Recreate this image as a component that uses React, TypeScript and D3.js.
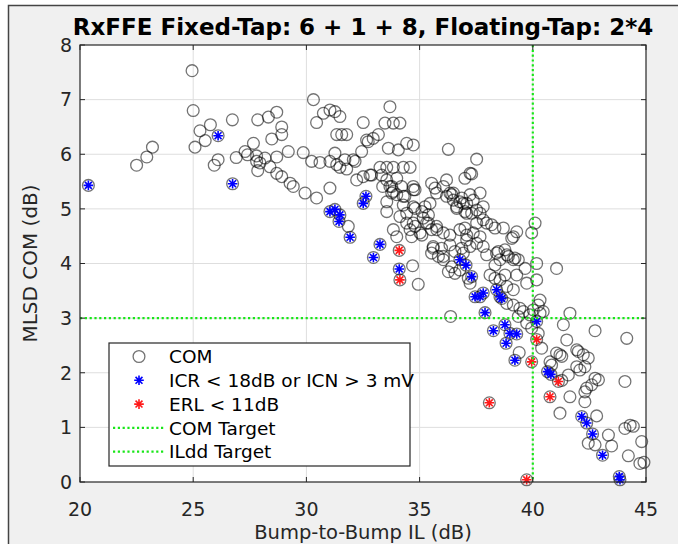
import { useEffect } from "react";
import * as d3 from "d3";

const TITLE = "RxFFE Fixed-Tap: 6 + 1 + 8, Floating-Tap: 2*4";
const X_LABEL = "Bump-to-Bump IL (dB)";
const Y_LABEL = "MLSD COM (dB)";
const X_TICKS = [20, 25, 30, 35, 40, 45];
const Y_TICKS = [0, 1, 2, 3, 4, 5, 6, 7, 8];
const COM_TARGET = 3;
const ILDD_TARGET = 40;
const LEGEND = ["COM", "ICR < 18dB or ICN > 3 mV", "ERL < 11dB", "COM Target", "ILdd Target"];

// plain COM results (circles only)
const comPts: [number, number][] = [
  [22.5, 5.8], [22.95, 5.95], [23.2, 6.13], [24.95, 7.53], [25.0, 6.8], [25.08, 6.13], [25.3, 6.43],
  [25.53, 6.25], [25.76, 6.54], [25.93, 5.8], [26.1, 5.9], [26.73, 6.63], [26.9, 5.94], [27.4, 5.99],
  [27.66, 6.2], [27.85, 6.63], [27.8, 5.87], [27.85, 5.7],
  [30.31, 7.0], [28.32, 6.68], [28.69, 6.77], [28.91, 6.5], [28.91, 6.36], [28.47, 6.28], [27.29, 6.05],
  [27.8, 5.97], [28.17, 5.93], [28.69, 5.95], [29.2, 6.05], [29.86, 6.03], [30.23, 5.87], [30.6, 5.85],
  [31.04, 5.87], [31.48, 5.76], [31.78, 5.73], [31.26, 6.02], [31.34, 6.36], [31.56, 6.36], [31.78, 6.36],
  [30.45, 6.58], [30.75, 6.75], [31.04, 6.81], [31.26, 6.78], [31.48, 6.69], [32.51, 6.58], [33.69, 6.87],
  [33.47, 6.57], [33.84, 6.57], [34.13, 6.57], [33.18, 6.36], [32.95, 6.29], [32.73, 6.23], [33.62, 6.11],
  [34.06, 6.08], [34.43, 6.2], [34.72, 6.17], [32.44, 6.05], [32.07, 5.9], [33.25, 5.76], [33.55, 5.76],
  [33.84, 5.76], [34.28, 5.76], [34.58, 5.76], [32.51, 5.59], [32.22, 5.53], [32.88, 5.62], [33.55, 5.53],
  [34.72, 5.41], [33.69, 5.41], [33.99, 5.26], [34.28, 5.23], [35.68, 5.38], [35.46, 5.1], [35.24, 5.04],
  [35.39, 4.89], [35.1, 4.95], [34.72, 5.04], [34.43, 4.92], [34.13, 4.86], [34.28, 5.07], [34.72, 4.74],
  [35.1, 4.52], [34.65, 4.49], [35.76, 4.62], [35.6, 4.31], [35.53, 4.19], [33.55, 5.13], [33.55, 4.95],
  [33.84, 4.62], [33.99, 4.49], [28.39, 5.77], [28.91, 5.59], [29.28, 5.47], [29.42, 5.41], [29.94, 5.29],
  [30.45, 5.2], [27.95, 5.84], [28.69, 5.65], [31.04, 5.38], [31.85, 4.68], [34.69, 3.96],
  [34.94, 3.62], [36.37, 3.03], [33.37, 5.41], [33.84, 5.32], [34.73, 5.35], [35.16, 4.83], [34.58, 4.62],
  [35.02, 4.56], [35.31, 4.74], [35.97, 4.28], [36.34, 4.34], [35.83, 4.13], [36.05, 4.07], [36.05, 4.56],
  [36.34, 4.52], [36.78, 4.62], [37.0, 4.65], [37.08, 4.52], [36.42, 3.94], [36.56, 3.82], [36.78, 3.88],
  [36.27, 3.85], [37.15, 3.73], [37.23, 3.64], [36.56, 4.22], [36.93, 4.19], [37.23, 4.31], [37.52, 4.37],
  [37.67, 4.49], [37.37, 4.56], [37.81, 4.31], [37.96, 4.74], [38.33, 4.65], [38.7, 4.65], [39.07, 4.46],
  [39.29, 4.58], [37.52, 4.98], [37.81, 5.04], [37.37, 5.16], [36.93, 5.1], [37.23, 5.26], [37.67, 5.29],
  [36.49, 5.29], [36.86, 5.2], [36.19, 5.23], [36.64, 5.04], [37.08, 4.92], [35.53, 5.47], [36.05, 5.41],
  [35.75, 5.29], [38.48, 4.22], [38.77, 4.25], [38.92, 4.13], [39.14, 4.07], [39.36, 4.07], [38.55, 4.07],
  [38.33, 3.97], [38.11, 3.79], [38.33, 3.73], [38.55, 3.7], [38.77, 3.79], [38.85, 3.58], [39.14, 3.52],
  [39.66, 3.91], [39.73, 3.64], [40.17, 4.0], [40.17, 3.7], [40.1, 4.74], [39.95, 4.56], [39.29, 3.79],
  [41.05, 3.91], [38.85, 3.27], [39.14, 3.24], [39.43, 3.18], [39.58, 3.12], [39.87, 3.06], [40.32, 3.09],
  [39.36, 3.03], [39.73, 2.91], [40.46, 3.12], [39.95, 2.82], [40.24, 2.72], [40.39, 2.45], [40.76, 2.2],
  [41.2, 2.33], [41.5, 2.6], [41.94, 2.42], [41.35, 2.88], [41.64, 3.09],
  [40.02, 3.15], [40.24, 3.24], [42.75, 2.77], [44.15, 2.63], [39.4, 2.37], [40.83, 2.14], [41.05, 2.36],
  [41.28, 2.3], [42.01, 2.39], [42.23, 2.33], [42.45, 2.27], [42.3, 2.11], [42.08, 2.05], [41.94, 2.11],
  [41.28, 1.86], [41.57, 1.96], [42.38, 1.72], [42.3, 1.65], [42.75, 1.9], [42.9, 1.87], [42.6, 1.78],
  [44.07, 1.84], [41.64, 1.56], [41.2, 1.26], [42.3, 1.47], [42.82, 1.21], [43.34, 0.86], [43.48, 0.66],
  [42.45, 0.71], [42.75, 0.68], [44.07, 0.98], [44.3, 1.04], [44.44, 1.02], [44.81, 0.74], [44.22, 0.48],
  [44.73, 0.34], [44.91, 0.36],
  [36.27, 6.09], [37.52, 5.91], [31.7, 5.9], [32.15, 5.87], [31.34, 5.81], [33.32, 5.62], [33.99, 5.56],
  [32.81, 5.62], [36.19, 5.53], [37.0, 5.56], [37.3, 5.64], [34.8, 5.35], [36.34, 5.29], [33.77, 5.41],
  [33.77, 5.29], [34.2, 5.41], [32.66, 6.26],
  [37.23, 5.65], [36.42, 5.26], [36.49, 5.16], [36.78, 5.13], [37.08, 5.1], [36.64, 5.01], [37.0, 4.95],
  [37.3, 4.92], [37.67, 4.92], [37.81, 4.8], [37.52, 4.74], [38.18, 4.71], [39.14, 4.49], [35.39, 4.74],
  [35.53, 4.62], [35.75, 4.68], [35.6, 4.28], [36.05, 4.13], [37.08, 4.43], [36.86, 4.28], [34.8, 5.01],
  [34.35, 5.23], [34.43, 4.74], [34.8, 4.68], [37.96, 4.16], [38.4, 4.19], [38.85, 4.16], [39.21, 4.1],
  [40.32, 3.33],
];

// ICR < 18dB or ICN > 3 mV (blue asterisk)
const icrPts: [number, number][] = [
  [20.37, 5.43], [26.1, 6.34], [26.74, 5.46], [31.04, 4.95], [31.26, 4.99], [31.48, 4.89], [31.44, 4.77],
  [31.93, 4.48], [32.63, 5.23], [32.51, 5.1], [33.25, 4.35], [32.96, 4.11], [34.1, 3.9], [36.78, 4.07],
  [37.05, 3.97], [37.3, 3.76], [37.45, 3.39], [37.67, 3.39], [37.81, 3.46], [38.4, 3.52], [38.55, 3.39],
  [38.63, 3.36], [37.89, 3.1], [38.26, 2.77], [38.77, 2.88], [38.99, 2.72], [39.29, 2.71], [38.82, 2.54],
  [40.17, 2.94], [39.21, 2.23], [40.8, 1.97], [40.65, 2.02], [42.16, 1.2], [42.38, 1.08], [42.64, 0.88],
  [43.08, 0.49], [43.82, 0.1], [43.85, 0.04],
];

// ERL < 11dB (red asterisk)
const erlPts: [number, number][] = [
  [34.1, 4.24], [34.13, 3.7], [40.17, 2.61], [39.95, 2.2], [41.13, 1.84], [40.76, 1.56], [38.08, 1.45],
  [39.73, 0.04],
];

const FONT = "'DejaVu Sans', Arial, sans-serif";
const GREEN = "#19e619";

function star(cx: number, cy: number, r: number) {
  const d = r * 0.72;
  return `M${cx - r},${cy}H${cx + r}M${cx},${cy - r}V${cy + r}` +
    `M${cx - d},${cy - d}L${cx + d},${cy + d}M${cx - d},${cy + d}L${cx + d},${cy - d}`;
}

export default function App() {
  useEffect(() => {
    document.body.style.margin = "0";
  }, []);

  const plot = { left: 80, right: 646, top: 45, bottom: 482 };
  const x = d3.scaleLinear().domain([20, 45]).range([plot.left, plot.right]);
  const y = d3.scaleLinear().domain([0, 8]).range([plot.bottom, plot.top]);
  const pw = plot.right - plot.left;
  const ph = plot.bottom - plot.top;
  const tick = 5;

  const allCircles = [...comPts, ...icrPts, ...erlPts];

  const lg = { x: 109, y: 343, w: 301, h: 123 };
  const rowY = (i: number) => lg.y + 13.5 + i * 23.8;

  return (
    <svg width={678} height={544} style={{ display: "block", background: "#fff" }}>
      <rect x={8.5} y={5.5} width={680} height={560} fill="#f0f0f0" stroke="#444" strokeWidth={1.5} />

      {/* axes background */}
      <rect x={plot.left} y={plot.top} width={pw} height={ph} fill="#fff" />

      {/* grid */}
      {X_TICKS.slice(1, -1).map((t) => (
        <line key={"gx" + t} x1={x(t)} x2={x(t)} y1={plot.top} y2={plot.bottom} stroke="#dedede" strokeWidth={1} />
      ))}
      {Y_TICKS.slice(1, -1).map((t) => (
        <line key={"gy" + t} x1={plot.left} x2={plot.right} y1={y(t)} y2={y(t)} stroke="#dedede" strokeWidth={1} />
      ))}

      {/* COM circles */}
      <g fill="none" stroke="#000" strokeOpacity={0.55} strokeWidth={1.3}>
        {allCircles.map((p, i) => (
          <circle key={"c" + i} cx={x(p[0])} cy={y(p[1])} r={5.9} />
        ))}
      </g>

      {/* ICR asterisks */}
      <g fill="none" stroke="#0000ff" strokeWidth={1.6}>
        {icrPts.map((p, i) => (
          <path key={"b" + i} d={star(x(p[0]), y(p[1]), 4.8)} />
        ))}
      </g>

      {/* ERL asterisks */}
      <g fill="none" stroke="#ff1a1a" strokeWidth={1.6}>
        {erlPts.map((p, i) => (
          <path key={"r" + i} d={star(x(p[0]), y(p[1]), 4.8)} />
        ))}
      </g>

      {/* targets */}
      <line x1={plot.left} x2={plot.right} y1={y(COM_TARGET)} y2={y(COM_TARGET)} stroke={GREEN} strokeWidth={2.2} strokeDasharray="2.2 2.6" />
      <line x1={x(ILDD_TARGET)} x2={x(ILDD_TARGET)} y1={plot.top} y2={plot.bottom} stroke={GREEN} strokeWidth={2.2} strokeDasharray="2.2 2.6" />

      {/* box + ticks */}
      <rect x={plot.left} y={plot.top} width={pw} height={ph} fill="none" stroke="#262626" strokeWidth={1.2} />
      <g stroke="#262626" strokeWidth={1}>
        {X_TICKS.map((t) => (
          <g key={"tx" + t}>
            <line x1={x(t)} x2={x(t)} y1={plot.bottom} y2={plot.bottom - tick} />
            <line x1={x(t)} x2={x(t)} y1={plot.top} y2={plot.top + tick} />
          </g>
        ))}
        {Y_TICKS.map((t) => (
          <g key={"ty" + t}>
            <line x1={plot.left} x2={plot.left + tick} y1={y(t)} y2={y(t)} />
            <line x1={plot.right} x2={plot.right - tick} y1={y(t)} y2={y(t)} />
          </g>
        ))}
      </g>

      {/* tick labels */}
      <g fontFamily={FONT} fontSize={19} fill="#262626">
        {X_TICKS.map((t) => (
          <text key={"lx" + t} x={x(t)} y={plot.bottom + 34} textAnchor="middle">{t}</text>
        ))}
        {Y_TICKS.map((t) => (
          <text key={"ly" + t} x={plot.left - 8} y={y(t)} dy="0.36em" textAnchor="end">{t}</text>
        ))}
      </g>

      {/* labels */}
      <text x={(plot.left + plot.right) / 2} y={35} textAnchor="middle" fontFamily={FONT} fontSize={23} fontWeight="bold" fill="#000">
        {TITLE}
      </text>
      <text x={(plot.left + plot.right) / 2} y={538.5} textAnchor="middle" fontFamily={FONT} fontSize={19.5} fill="#262626">
        {X_LABEL}
      </text>
      <text transform={`translate(37,${(plot.top + plot.bottom) / 2}) rotate(-90)`} textAnchor="middle" fontFamily={FONT} fontSize={20} fill="#262626">
        {Y_LABEL}
      </text>

      {/* legend */}
      <rect x={lg.x} y={lg.y} width={lg.w} height={lg.h} fill="#fff" stroke="#262626" strokeWidth={1.2} />
      <circle cx={139} cy={rowY(0)} r={5.9} fill="none" stroke="#000" strokeOpacity={0.55} strokeWidth={1.3} />
      <path d={star(139, rowY(1), 4.8)} fill="none" stroke="#0000ff" strokeWidth={1.6} />
      <path d={star(139, rowY(2), 4.8)} fill="none" stroke="#ff1a1a" strokeWidth={1.6} />
      <line x1={113} x2={164} y1={rowY(3)} y2={rowY(3)} stroke={GREEN} strokeWidth={2.2} strokeDasharray="2.2 2.6" />
      <line x1={113} x2={164} y1={rowY(4)} y2={rowY(4)} stroke={GREEN} strokeWidth={2.2} strokeDasharray="2.2 2.6" />
      <g fontFamily={FONT} fontSize={18.5} fill="#000">
        {LEGEND.map((s, i) => (
          <text key={s} x={169} y={rowY(i)} dy="0.36em">{s}</text>
        ))}
      </g>
    </svg>
  );
}
